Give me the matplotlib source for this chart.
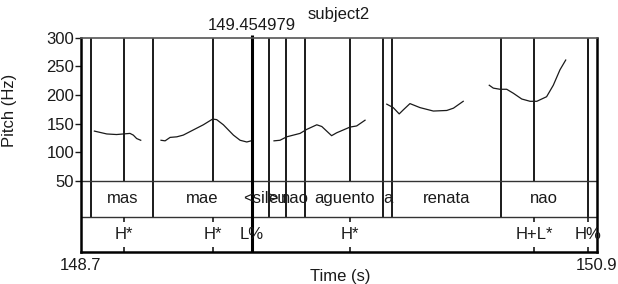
import matplotlib.pyplot as plt

plt.rcParams['font.family'] = ['Liberation Sans', 'DejaVu Sans']

# time range and cursor
t_start, t_end = 148.74, 150.90
cursor = 149.454979

# word tier: boundaries and interval labels
word_edges = [148.74, 148.782, 149.043, 149.455, 149.528, 149.597, 149.678,
              150.005, 150.043, 150.497, 150.861, 150.90]
word_labels = ['', 'mas', 'mae', '<sil>', 'eu', 'nao', 'aguento', 'a',
               'renata', 'nao', '']

# tone tier: points
tone_times = [148.920, 149.294, 149.455, 149.866, 150.636, 150.861]
tone_labels = ['H*', 'H*', 'L%', 'H*', 'H+L*', 'H%']

# pitch contour pieces (s, Hz)
pitch_t = [
    [148.796, 148.848, 148.889, 148.945, 148.959, 148.973, 148.990],
    [149.075, 149.092, 149.113, 149.141, 149.168, 149.210, 149.252, 149.291,
     149.308, 149.336, 149.378, 149.406, 149.434, 149.461],
    [149.548, 149.573, 149.601, 149.657, 149.685, 149.727, 149.748, 149.789,
     149.810, 149.866, 149.894, 149.929],
    [150.020, 150.047, 150.072, 150.089, 150.117, 150.159, 150.215, 150.271,
     150.299, 150.340],
    [150.449, 150.466, 150.494, 150.522, 150.550, 150.585, 150.620, 150.648,
     150.689, 150.717, 150.745, 150.769],
]
pitch_hz = [
    [137, 132, 131, 133, 130, 124, 121],
    [121, 120, 126, 127, 130, 139, 148, 158, 157, 148, 130, 121, 118, 121],
    [120, 121, 127, 133, 140, 148, 145, 129, 134, 144, 146, 156],
    [184, 178, 167, 174, 185, 178, 172, 173, 177, 189],
    [217, 212, 210, 210, 203, 193, 189, 189, 197, 217, 244, 261],
]

y_ticks = [50, 100, 150, 200, 250, 300]
word_bottom = -13
tone_bottom = -74
ink = '#1a1a1a'

fig = plt.figure(figsize=(6.18, 2.84), dpi=100)
ax = fig.add_axes([81 / 618, 1 - 252 / 284, 516 / 618, (252 - 37.7) / 284])
ax.set_xlim(t_start, t_end)
ax.set_ylim(tone_bottom, 300)

# boundaries through the pitch area
inner = word_edges[1:-1] + tone_times
ax.vlines(inner, 50, 300, color=ink, lw=1.4)
# word tier
ax.vlines(word_edges[1:-1], word_bottom, 50, color=ink, lw=1.4)
ax.axhline(50, color='#333333', lw=1.0)
ax.axhline(word_bottom, color='#333333', lw=1.0)
for a, b, lab in zip(word_edges[:-1], word_edges[1:], word_labels):
    ax.text((a + b) / 2, (50 + word_bottom) / 2, lab, ha='center', va='center',
            fontsize=12, color=ink)
# tone tier
tick = 9
ax.vlines(tone_times, word_bottom - tick, word_bottom, color=ink, lw=1.2)
ax.vlines(tone_times, tone_bottom, tone_bottom + tick, color=ink, lw=1.2)
for t, lab in zip(tone_times, tone_labels):
    ax.text(t, (word_bottom + tone_bottom) / 2, lab, ha='center', va='center',
            fontsize=12, color=ink)

# pitch
for ts, hz in zip(pitch_t, pitch_hz):
    ax.plot(ts, hz, color=ink, lw=0.9)

# cursor
ax.vlines(cursor, tone_bottom, 305, color='black', lw=2.2, clip_on=False)
ax.annotate(f'{cursor}', xy=(cursor, 300), xytext=(0, 8.5),
            textcoords='offset points', ha='center', va='center',
            fontsize=12, color=ink)

ax.set_yticks(y_ticks)
ax.tick_params(axis='y', direction='out', length=4, width=1, labelsize=12,
               pad=1, colors=ink)
ax.set_xticks([t_start, t_end])
ax.set_xticklabels(['148.7', '150.9'])
ax.tick_params(axis='x', length=0, labelsize=12, pad=4, colors=ink)

for s in ['left', 'right', 'bottom']:
    ax.spines[s].set_linewidth(1.8)
    ax.spines[s].set_color('black')
ax.spines['top'].set_linewidth(1.2)
ax.spines['top'].set_color('#555555')

fig.text(339 / 618, 1 - 14 / 284, 'subject2', ha='center', va='center',
         fontsize=12, color=ink)
fig.text(340 / 618, 1 - 277 / 284, 'Time (s)', ha='center', va='center',
         fontsize=12, color=ink)
fig.text(10 / 618, 1 - 110 / 284, 'Pitch (Hz)', ha='center', va='center',
         rotation=90, fontsize=12, color=ink)

fig.savefig('out.png', dpi=100)
